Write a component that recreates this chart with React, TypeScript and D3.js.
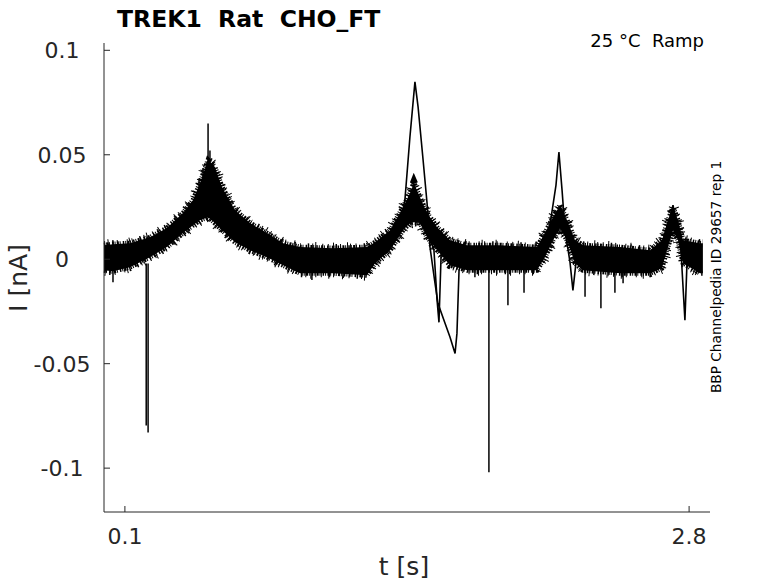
import { useEffect, useRef } from 'react';
import * as d3 from 'd3';

// envelope of the overlaid sweeps (t in s, current in nA)
const bandT = [
  0.0, 0.043, 0.124, 0.22, 0.301, 0.378, 0.426, 0.459, 0.498, 0.531, 0.565, 0.627, 0.699,
  0.78, 0.857, 0.938, 1.096, 1.259, 1.297, 1.369, 1.431, 1.464, 1.483, 1.512, 1.546, 1.594,
  1.656, 1.737, 1.895, 2.072, 2.11, 2.149, 2.182, 2.216, 2.254, 2.292, 2.469, 2.613, 2.67,
  2.694, 2.723, 2.747, 2.771, 2.852, 2.866,
];
const bandUpper = [
  0.0067, 0.0072, 0.0077, 0.0105, 0.0149, 0.0221, 0.0283, 0.0364, 0.0475, 0.0441, 0.0345,
  0.0235, 0.0173, 0.0125, 0.0077, 0.0058, 0.0053, 0.0058, 0.0081, 0.0139, 0.0249, 0.0316,
  0.0364, 0.0297, 0.0221, 0.0153, 0.0091, 0.0067, 0.0067, 0.0058, 0.0125, 0.0201, 0.0259,
  0.0187, 0.0091, 0.0067, 0.0058, 0.0043, 0.0091, 0.0173, 0.0249, 0.0187, 0.0091, 0.0077,
  0.0077,
];
const bandLower = [
  -0.0053, -0.0058, -0.0038, 0.001, 0.0058, 0.0125, 0.0163, 0.0187, 0.0201, 0.0173, 0.0139,
  0.0081, 0.0043, 0.001, -0.0029, -0.0067, -0.0067, -0.0077, -0.0019, 0.0043, 0.0139,
  0.0173, 0.0177, 0.0173, 0.0105, 0.0043, -0.0029, -0.0053, -0.0053, -0.0053, 0.001,
  0.0091, 0.0149, 0.0091, -0.0019, -0.0053, -0.0067, -0.0067, -0.0043, 0.0043, 0.0139,
  0.0091, -0.0019, -0.0067, -0.0067,
];

// single sweeps leaving the envelope
const sweepA_T = [
  1.407, 1.44, 1.464, 1.488, 1.503, 1.527, 1.546, 1.56, 1.584, 1.598, 1.632, 1.656, 1.68,
  1.689, 1.699, 1.713,
];
const sweepA_I = [
  0.0129, 0.0283, 0.0585, 0.0849, 0.0729, 0.0475, 0.0268, 0.0058, -0.0115, -0.0211, -0.0307,
  -0.0374, -0.0451, -0.0355, -0.0053, -0.0014,
];
const sweepB_T = [1.55, 1.579, 1.594, 1.603, 1.613, 1.627];
const sweepB_I = [0.0129, 0.0043, -0.0197, -0.0302, 0.0014, 0.0043];
const sweepC_T = [2.134, 2.163, 2.177, 2.192, 2.206, 2.23, 2.244, 2.259];
const sweepC_I = [0.0163, 0.0355, 0.0513, 0.0331, 0.0139, -0.0014, -0.0149, -0.0014];
const sweepD_T = [2.699, 2.723, 2.742, 2.761, 2.78, 2.79];
const sweepD_I = [0.0163, 0.0259, 0.0163, 0.0043, -0.0292, -0.0014];

// isolated artefact spikes: time, base current, tip current
const spikeT = [
  0.043, 0.202, 0.211, 0.455, 0.474, 0.498, 0.507, 0.522, 0.995, 1.775, 1.842, 1.933, 2.01,
  2.302, 2.378, 2.445, 2.484,
];
const spikeBase = [
  -0.004, -0.002, -0.002, 0.02, 0.02, 0.02, 0.02, 0.02, -0.005, -0.004, -0.004, -0.004,
  -0.004, -0.004, -0.004, -0.004, -0.004,
];
const spikeTip = [
  -0.011, -0.0796, -0.083, 0.0388, 0.0436, 0.065, 0.052, 0.046, -0.01, -0.0086, -0.102,
  -0.022, -0.016, -0.018, -0.0235, -0.016, -0.0115,
];

const yTicks = [0.1, 0.05, 0, -0.05, -0.1];
const yTickLabels = ['0.1', '0.05', '0', '-0.05', '-0.1'];
const xTicks = [0.1, 2.8];
const xTickLabels = ['0.1', '2.8'];

const titleText = 'TREK1  Rat  CHO_FT';
const conditionText = '25 °C  Ramp';
const sourceText = 'BBP Channelpedia ID 29657 rep 1';

const W = 778;
const H = 583;
const font = 'DejaVu Sans, sans-serif';
const axisColor = '#262626';

type BandPt = { t: number; hi: number; lo: number };

function Chart() {
  const ref = useRef<SVGSVGElement | null>(null);

  useEffect(() => {
    if (!ref.current) return;
    const svg = d3.select(ref.current);
    svg.selectAll('*').remove();

    const x = d3.scaleLinear().domain([0, 2.9]).range([104, 710]);
    const y = d3.scaleLinear().domain([-0.121, 0.1035]).range([512, 43]);

    const band: BandPt[] = bandT.map((t, i) => ({ t, hi: bandUpper[i], lo: bandLower[i] }));
    const area = d3
      .area<BandPt>()
      .x((d) => x(d.t))
      .y0((d) => y(d.lo))
      .y1((d) => y(d.hi));

    svg.append('path').datum(band).attr('d', area).attr('fill', '#000');

    // ragged edges standing in for the recording noise
    const edge = (key: 'hi' | 'lo') =>
      d3
        .line<BandPt>()
        .x((d) => x(d.t))
        .y((d) => y(d[key]));
    const fringes = [
      { w: 5, dash: '1 1.3 2 0.8 1 2.1 1.5 1' },
      { w: 8, dash: '1 4.5 1 7 1.5 3 1 9' },
      { w: 11, dash: '1 13 1 21 1 17' },
    ];
    (['hi', 'lo'] as const).forEach((k, j) => {
      fringes.forEach((f, n) => {
        svg
          .append('path')
          .datum(band)
          .attr('d', edge(k))
          .attr('fill', 'none')
          .attr('stroke', '#000')
          .attr('stroke-width', f.w)
          .attr('stroke-dashoffset', j * 3 + n * 5)
          .attr('stroke-dasharray', f.dash);
      });
    });

    const line = d3
      .line<[number, number]>()
      .x((d) => x(d[0]))
      .y((d) => y(d[1]));
    const sweeps: [number[], number[]][] = [
      [sweepA_T, sweepA_I],
      [sweepB_T, sweepB_I],
      [sweepC_T, sweepC_I],
      [sweepD_T, sweepD_I],
    ];
    sweeps.forEach(([ts, is]) => {
      svg
        .append('path')
        .datum(ts.map((t, i) => [t, is[i]] as [number, number]))
        .attr('d', line)
        .attr('fill', 'none')
        .attr('stroke', '#000')
        .attr('stroke-width', 1.6);
    });

    svg
      .append('g')
      .selectAll('line')
      .data(spikeT)
      .join('line')
      .attr('x1', (t) => x(t))
      .attr('x2', (t) => x(t))
      .attr('y1', (_, i) => y(spikeBase[i]))
      .attr('y2', (_, i) => y(spikeTip[i]))
      .attr('stroke', '#000')
      .attr('stroke-width', 1.5);

    // axes (MATLAB style, ticks inward)
    const [x0, x1] = x.range();
    const [yb, yt] = y.range();
    svg.append('line').attr('x1', x0).attr('x2', x0).attr('y1', yt).attr('y2', yb)
      .attr('stroke', axisColor);
    svg.append('line').attr('x1', x0).attr('x2', x1).attr('y1', yb).attr('y2', yb)
      .attr('stroke', axisColor);

    const gy = svg.append('g');
    yTicks.forEach((v, i) => {
      gy.append('line').attr('x1', x0).attr('x2', x0 + 6).attr('y1', y(v)).attr('y2', y(v))
        .attr('stroke', axisColor);
      gy.append('text').attr('x', 62).attr('y', y(v) + 8).attr('text-anchor', 'middle')
        .attr('font-family', font).attr('font-size', 22).attr('fill', axisColor)
        .text(yTickLabels[i]);
    });
    const gx = svg.append('g');
    xTicks.forEach((v, i) => {
      gx.append('line').attr('x1', x(v)).attr('x2', x(v)).attr('y1', yb).attr('y2', yb - 6)
        .attr('stroke', axisColor);
      gx.append('text').attr('x', x(v)).attr('y', 544).attr('text-anchor', 'middle')
        .attr('font-family', font).attr('font-size', 22).attr('fill', axisColor)
        .text(xTickLabels[i]);
    });

    svg.append('text').attr('x', 404).attr('y', 575).attr('text-anchor', 'middle')
      .attr('font-family', font).attr('font-size', 25).attr('fill', axisColor).text('t [s]');
    svg.append('text').attr('transform', 'translate(27,278) rotate(-90)')
      .attr('text-anchor', 'middle').attr('font-family', font).attr('font-size', 25)
      .attr('fill', axisColor).text('I [nA]');

    svg.append('text').attr('x', 117).attr('y', 27).attr('font-family', font)
      .attr('font-weight', 'bold').attr('font-size', 23.5).attr('fill', '#000')
      .style('white-space', 'pre').text(titleText);
    svg.append('text').attr('x', 704).attr('y', 47).attr('text-anchor', 'end')
      .attr('font-family', font).attr('font-size', 18).attr('fill', '#000')
      .style('white-space', 'pre').text(conditionText);
    svg.append('text').attr('transform', 'translate(721,277) rotate(-90)')
      .attr('text-anchor', 'middle').attr('font-family', font).attr('font-size', 13.7)
      .attr('fill', '#000').text(sourceText);
  }, []);

  return <svg ref={ref} width={W} height={H} style={{ display: 'block' }} />;
}

export default function App() {
  return (
    <div style={{ position: 'absolute', left: 0, top: 0, background: '#fff' }}>
      <Chart />
    </div>
  );
}
